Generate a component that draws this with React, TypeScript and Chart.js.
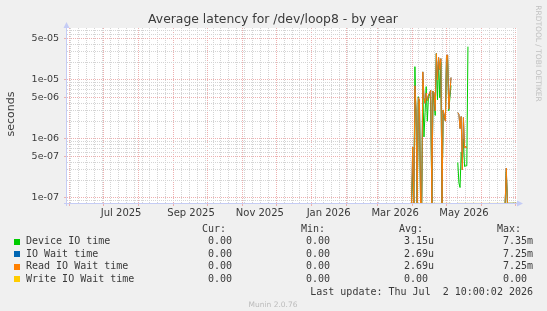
import React, { useEffect, useRef } from "react";
import { Chart, registerables } from "chart.js";

Chart.register(...registerables);

// ---------- text ----------
const TITLE = "Average latency for /dev/loop8 - by year";
const Y_TITLE = "seconds";
const SIDE_TEXT = "RRDTOOL / TOBI OETIKER";
const FOOTER = "Munin 2.0.76";
const LAST_UPDATE = "Last update: Thu Jul  2 10:00:02 2026";

// ---------- axes (x in days relative to 2025-07-01) ----------
const X_MIN = -32.5;
const X_MAX = 366.5;
const Y_MIN = 8.2e-8;
const Y_MAX = 7.6e-5;
const ZERO_DRAW = Y_MIN * 0.985; // zero values sit on the lower edge of the log plot

const X_TICK_LABELS = ["Jul 2025", "Sep 2025", "Nov 2025", "Jan 2026", "Mar 2026", "May 2026"];
const X_LABEL_DAYS = [15.5, 77.5, 138.5, 199.5, 258.5, 319.5];
const MONTH_START_DAYS = [-30, 0, 31, 62, 92, 123, 153, 184, 215, 243, 274, 304, 335, 365];
const FIRST_MONDAY = -29;

const Y_TICK_LABELS = ["1e-07", "5e-07", "1e-06", "5e-06", "1e-05", "5e-05"];
const Y_TICK_VALUES = [1e-7, 5e-7, 1e-6, 5e-6, 1e-5, 5e-5];

// ---------- series ----------
const SERIES_NAMES = ["Device IO time", "IO Wait time", "Read IO Wait time", "Write IO Wait time"];
const SERIES_COLORS = ["#00CC00", "#0066B3", "#FF8000", "#FFCC00"];
const FIRST_DAY = 273; // one value per day from 2026-03-31

const DEVICE_IO = [
  0, 3e-7, 0, 1.68e-5, 2e-6, 0, 5.2e-6, 4e-6, 0, 0,
  6e-6, 1.08e-6, 2.8e-6, 7.7e-6, 2e-6, 5.2e-6, 5.8e-6, 4.5e-6, 0, 6.5e-6,
  4e-6, 2.5e-6, 2.8e-5, 4.6e-6, 2.2e-5, 5e-6, 2e-5, 0, 3e-6, 2.2e-6,
  2.1e-6, 2.3e-5, 2.2e-5, 3e-6, 5e-6, 8e-6, null, null, null, null,
  null, 4e-7, 1.8e-7, 1.5e-7, 6e-7, 4e-7, 1e-6, 3.4e-7, 3.5e-7, 3.5e-7,
  3.67e-5, null, null, null, null, null, null, null, null, null,
  null, null, null, null, null, null, null, null, null, null,
  null, null, null, null, null, null, null, null, null, null,
  null, null, null, 0, 2.8e-7, 0, 0, 0, 0, 0,
  0, 0, 0, 0,
];

const IO_WAIT = [
  0, 7.3e-7, 0, 8e-6, 3e-6, 0, 5e-6, 4.5e-6, 0, 0,
  1.37e-5, 5e-6, 4e-6, 6e-6, 4.5e-6, 5.5e-6, 6e-6, 6.7e-6, 0, 6.5e-6,
  6e-6, 3e-6, 2.8e-5, 1e-5, 2.4e-5, 1.5e-5, 2.3e-5, 0, 3.1e-6, 2.5e-6,
  2e-6, 2.6e-5, 2.65e-5, 3.2e-6, 6e-6, 1.1e-5, null, null, null, null,
  null, 2.8e-6, 2.6e-6, 1.5e-6, 2.4e-6, 3e-7, 2.3e-6, 7e-7, 7.5e-7, 7e-7,
  null, null, null, null, null, null, null, null, null, null,
  null, null, null, null, null, null, null, null, null, null,
  null, null, null, null, null, null, null, null, null, null,
  null, null, null, 0, 3.2e-7, 0, 0, 0, 0, 0,
  0, 0, 0, 0,
];

const READ_IO_WAIT = [
  0, 7.3e-7, 0, 8e-6, 3e-6, 0, 5e-6, 4.5e-6, 0, 0,
  1.37e-5, 5e-6, 4e-6, 6e-6, 4.5e-6, 5.5e-6, 6e-6, 6.7e-6, 0, 6.5e-6,
  6e-6, 3e-6, 2.8e-5, 1e-5, 2.4e-5, 1.5e-5, 2.3e-5, 0, 3.1e-6, 2.5e-6,
  2e-6, 2.6e-5, 2.65e-5, 3.2e-6, 6e-6, 1.1e-5, null, null, null, null,
  null, 2.8e-6, 2.6e-6, 1.5e-6, 2.4e-6, 3e-7, 2.3e-6, 7e-7, 7.5e-7, 7e-7,
  null, null, null, null, null, null, null, null, null, null,
  null, null, null, null, null, null, null, null, null, null,
  null, null, null, null, null, null, null, null, null, null,
  null, null, null, 0, 3.2e-7, 0, 0, 0, 0, 0,
  0, 0, 0, 0,
];

const WRITE_IO_WAIT = [
  0, 0, 0, 0, 0, 0, 0, 0, 0, 0,
  0, 0, 0, 0, 0, 0, 0, 0, 0, 0,
  0, 0, 0, 0, 0, 0, 0, 0, 0, 0,
  0, 0, 0, 0, 0, 0, null, null, null, null,
  null, 0, 0, 0, 0, 0, 0, 0, 0, 0,
  0, 0, 0, 0, 0, 0, 0, 0, 0, 0,
  0, 0, 0, 0, 0, 0, 0, 0, 0, 0,
  0, 0, 0, 0, 0, 0, 0, 0, 0, 0,
  0, 0, 0, 0, 0, 0, 0, 0, 0, 0,
  0, 0, 0, 0,
];

const LEGEND_CUR = ["0.00 ", "0.00 ", "0.00 ", "0.00 "];
const LEGEND_MIN = ["0.00 ", "0.00 ", "0.00 ", "0.00 "];
const LEGEND_AVG = ["3.15u", "2.69u", "2.69u", "0.00 "];
const LEGEND_MAX = ["7.35m", "7.25m", "7.25m", "0.00 "];
const LEGEND_HEADERS = ["Cur:", "Min:", "Avg:", "Max:"];

// ---------- style ----------
const BG = "#F0F0F0";
const PLOT_BG = "#FFFFFF";
const GRID_MINOR = "#D4D4D4";
const GRID_MAJOR = "#EDB0B0";
const AXIS = "#C5CCF5";
const TEXT = "#3a3a3a";
const NONE = "rgba(0,0,0,0)";

// grid / tick tables built from the named arrays
type XT = { value: number; kind: "w" | "m" | "l"; text?: string };
const X_TICKS: XT[] = (() => {
  const t: XT[] = [];
  for (let d = FIRST_MONDAY; d <= X_MAX; d += 7) t.push({ value: d, kind: "w" });
  MONTH_START_DAYS.forEach((d) => t.push({ value: d, kind: "m" }));
  X_LABEL_DAYS.forEach((d, i) => t.push({ value: d, kind: "l", text: X_TICK_LABELS[i] }));
  return t.filter((x) => x.value >= X_MIN && x.value <= X_MAX).sort((a, b) => a.value - b.value);
})();

type YT = { value: number; major: boolean; text: string };
const Y_TICKS: YT[] = (() => {
  const t: YT[] = [];
  for (let e = -8; e <= -4; e++) {
    for (let m = 1; m <= 9; m++) {
      const v = m * Math.pow(10, e);
      if (v < Y_MIN || v > Y_MAX) continue;
      const idx = Y_TICK_VALUES.findIndex((x) => Math.abs(x - v) / v < 1e-9);
      t.push({ value: v, major: idx >= 0, text: idx >= 0 ? Y_TICK_LABELS[idx] : "" });
    }
  }
  return t;
})();

const toPoints = (arr: (number | null)[]) =>
  arr.map((v, i) => ({ x: FIRST_DAY + i, y: v === null ? null : Math.max(v, ZERO_DRAW) }));

const muninPlugin = {
  id: "munin",
  beforeDraw(chart: any) {
    const { ctx, chartArea: a, width, height } = chart;
    ctx.save();
    ctx.fillStyle = BG;
    ctx.fillRect(0, 0, width, height);
    ctx.fillStyle = PLOT_BG;
    ctx.fillRect(a.left, a.top, a.right - a.left, a.bottom - a.top);
    ctx.restore();
  },
  beforeDatasetsDraw(chart: any) {
    const { ctx, chartArea: a } = chart;
    ctx.save();
    ctx.strokeStyle = AXIS;
    ctx.fillStyle = AXIS;
    ctx.lineWidth = 1;
    ctx.beginPath();
    ctx.moveTo(a.left - 0.5, a.bottom + 3);
    ctx.lineTo(a.left - 0.5, a.top - 2);
    ctx.moveTo(a.left - 3, a.bottom + 0.5);
    ctx.lineTo(a.right + 2, a.bottom + 0.5);
    ctx.stroke();
    // arrows
    ctx.beginPath();
    ctx.moveTo(a.left - 0.5, a.top - 6);
    ctx.lineTo(a.left - 3.5, a.top);
    ctx.lineTo(a.left + 2.5, a.top);
    ctx.closePath();
    ctx.fill();
    ctx.beginPath();
    ctx.moveTo(a.right + 6, a.bottom + 0.5);
    ctx.lineTo(a.right, a.bottom - 2.5);
    ctx.lineTo(a.right, a.bottom + 3.5);
    ctx.closePath();
    ctx.fill();
    ctx.restore();
  },
  afterDraw(chart: any) {
    const { ctx } = chart;
    ctx.save();
    // title
    ctx.fillStyle = TEXT;
    ctx.textBaseline = "middle";
    ctx.textAlign = "center";
    ctx.font = "12.4px 'DejaVu Sans'";
    ctx.fillText(TITLE, 273, 20);
    // y title
    ctx.save();
    ctx.translate(11, 114);
    ctx.rotate(-Math.PI / 2);
    ctx.font = "11px 'DejaVu Sans'";
    ctx.fillText(Y_TITLE, 0, 0);
    ctx.restore();
    // side text
    ctx.save();
    ctx.translate(537.5, 53.5);
    ctx.rotate(Math.PI / 2);
    ctx.fillStyle = "#C0C0C0";
    ctx.font = "7.5px 'DejaVu Sans'";
    ctx.fillText(SIDE_TEXT, 0, 0);
    ctx.restore();
    // legend
    ctx.font = "10px 'DejaVu Sans Mono'";
    ctx.textAlign = "left";
    const headerX = [202, 301, 399, 497];
    LEGEND_HEADERS.forEach((h, i) => ctx.fillText(h, headerX[i], 229));
    const colRight = [238, 336, 434, 533];
    const cols = [LEGEND_CUR, LEGEND_MIN, LEGEND_AVG, LEGEND_MAX];
    chart.data.datasets.forEach((ds: any, i: number) => {
      const y = 241.5 + i * 12.6;
      ctx.fillStyle = ds.borderColor;
      ctx.fillRect(14, Math.round(y) - 3, 6, 6);
      ctx.fillStyle = TEXT;
      ctx.textAlign = "left";
      ctx.fillText(ds.label, 26, y);
      ctx.textAlign = "right";
      cols.forEach((c, j) => ctx.fillText(c[i], colRight[j], y));
    });
    ctx.textAlign = "right";
    ctx.fillText(LAST_UPDATE, 533, 292);
    ctx.textAlign = "center";
    ctx.fillStyle = "#BBBBBB";
    ctx.font = "7.5px 'DejaVu Sans'";
    ctx.fillText(FOOTER, 273, 305);
    ctx.restore();
  },
};

export default function App() {
  const ref = useRef<HTMLCanvasElement>(null);
  useEffect(() => {
    const seriesData = [DEVICE_IO, IO_WAIT, READ_IO_WAIT, WRITE_IO_WAIT];
    const chart = new Chart(ref.current as HTMLCanvasElement, {
      type: "line",
      data: {
        datasets: seriesData.map((arr, i) => ({
          label: SERIES_NAMES[i],
          data: toPoints(arr),
          borderColor: SERIES_COLORS[i],
          backgroundColor: SERIES_COLORS[i],
          borderWidth: 1,
          pointRadius: 0,
          tension: 0,
          spanGaps: false,
          fill: false,
          order: 4 - i,
        })),
      },
      options: {
        animation: false,
        responsive: false,
        devicePixelRatio: 1,
        events: [],
        layout: { padding: { left: 0, top: 28, right: 30, bottom: 88 } },
        plugins: { legend: { display: false }, title: { display: false }, tooltip: { enabled: false } },
        scales: {
          x: {
            type: "linear",
            min: X_MIN,
            max: X_MAX,
            afterBuildTicks: (s: any) => {
              s.ticks = X_TICKS.map((t) => ({ value: t.value }));
            },
            afterFit: (s: any) => {
              s.height = 20;
            },
            grid: {
              color: (c: any) => {
                const t = X_TICKS[c.index];
                if (!t) return NONE;
                return t.kind === "m" ? GRID_MAJOR : t.kind === "w" ? GRID_MINOR : NONE;
              },
              tickColor: (c: any) => {
                const t = X_TICKS[c.index];
                return t && t.kind === "m" ? GRID_MAJOR : NONE;
              },
              lineWidth: 1,
              tickLength: 3,
              drawTicks: true,
            },
            border: { display: false, dash: [1, 1] },
            ticks: {
              autoSkip: false,
              maxRotation: 0,
              padding: 1,
              color: TEXT,
              font: { family: "'DejaVu Sans'", size: 10 },
              callback: (_v: any, i: number) => (X_TICKS[i] && X_TICKS[i].text) || "",
            },
          },
          y: {
            type: "logarithmic",
            min: Y_MIN,
            max: Y_MAX,
            afterBuildTicks: (s: any) => {
              s.ticks = Y_TICKS.map((t) => ({ value: t.value }));
            },
            afterFit: (s: any) => {
              s.width = 67;
            },
            grid: {
              color: (c: any) => {
                const t = Y_TICKS[c.index];
                if (!t) return NONE;
                return t.major ? GRID_MAJOR : GRID_MINOR;
              },
              tickColor: (c: any) => {
                const t = Y_TICKS[c.index];
                return t && t.major ? GRID_MAJOR : NONE;
              },
              lineWidth: 1,
              tickLength: 3,
              drawTicks: true,
            },
            border: { display: false, dash: [1, 1] },
            ticks: {
              autoSkip: false,
              padding: 5,
              color: TEXT,
              font: { family: "'DejaVu Sans'", size: 9.5 },
              callback: (_v: any, i: number) => (Y_TICKS[i] && Y_TICKS[i].text) || "",
            },
          },
        },
      },
      plugins: [muninPlugin],
    } as any);
    return () => chart.destroy();
  }, []);
  return (
    <div style={{ position: "fixed", left: 0, top: 0, width: 547, height: 311, background: BG }}>
      <canvas ref={ref} width={547} height={311} style={{ display: "block", width: 547, height: 311 }} />
    </div>
  );
}
